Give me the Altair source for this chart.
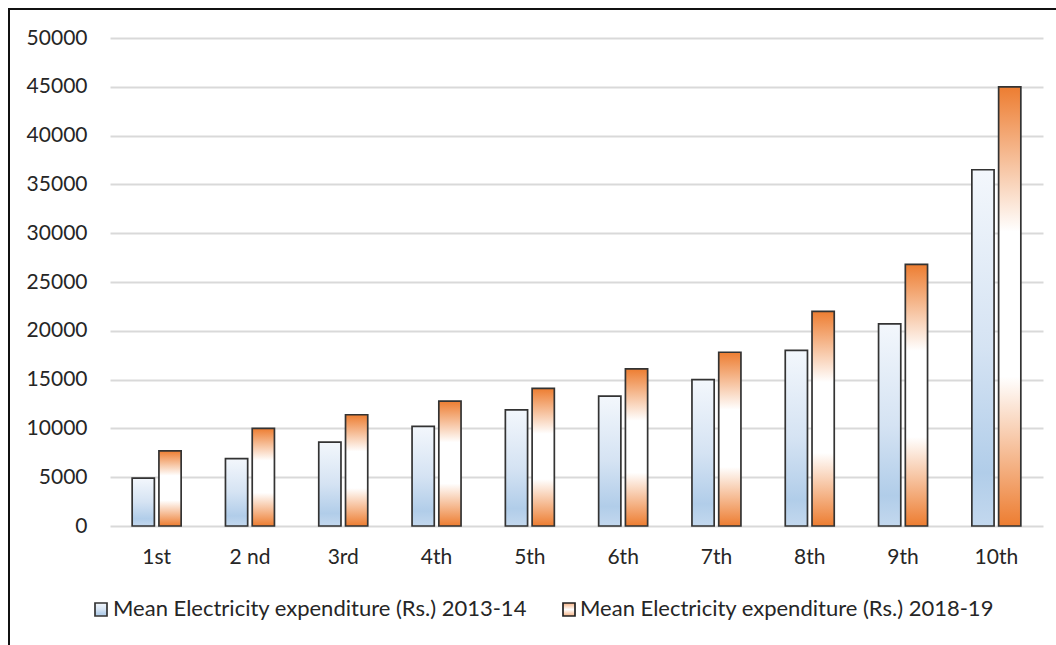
import altair as alt
import pandas as pd

# Decile groups and mean electricity expenditure (Rs.)
deciles = ["1st", "2 nd", "3rd", "4th", "5th", "6th", "7th", "8th", "9th", "10th"]
exp_2013_14 = [4900, 6900, 8600, 10200, 11900, 13300, 15000, 18000, 20700, 36500]
exp_2018_19 = [7700, 10000, 11400, 12800, 14100, 16100, 17800, 22000, 26800, 45000]
series_names = [
    "Mean Electricity expenditure (Rs.) 2013-14",
    "Mean Electricity expenditure (Rs.) 2018-19",
]
y_ticks = list(range(0, 50001, 5000))

rows = []
for d, a, b in zip(deciles, exp_2013_14, exp_2018_19):
    rows.append({"decile": d, "series": series_names[0], "value": a})
    rows.append({"decile": d, "series": series_names[1], "value": b})
df = pd.DataFrame(rows)

FONT = "Lato"
TEXT = "#262626"
OUTLINE = "#333333"

blue_grad = {
    "gradient": "linear", "x1": 0, "y1": 0, "x2": 0, "y2": 1,
    "stops": [
        {"offset": 0.0, "color": "#f3f7fc"},
        {"offset": 0.5, "color": "#d5e3f3"},
        {"offset": 0.85, "color": "#b1cde9"},
        {"offset": 1.0, "color": "#c3d8ee"},
    ],
}
orange_grad = {
    "gradient": "linear", "x1": 0, "y1": 0, "x2": 0, "y2": 1,
    "stops": [
        {"offset": 0.0, "color": "#ed7d31"},
        {"offset": 0.33, "color": "#ffffff"},
        {"offset": 0.66, "color": "#ffffff"},
        {"offset": 1.0, "color": "#ed7d31"},
    ],
}

x_enc = alt.X(
    "decile:N", sort=deciles,
    scale=alt.Scale(paddingInner=0.475, paddingOuter=0.2375),
    axis=alt.Axis(title=None, domain=False, ticks=False, labelAngle=0,
                  labelFont=FONT, labelFontSize=21, labelColor=TEXT,
                  labelPadding=20, grid=False),
)
y_enc = alt.Y(
    "value:Q",
    scale=alt.Scale(domain=[0, 50000], nice=False),
    axis=alt.Axis(title=None, values=y_ticks, format="d", domain=False,
                  ticks=False, labelFont=FONT, labelFontSize=21,
                  labelColor=TEXT, labelPadding=23, grid=True,
                  gridColor="#d9d9d9", gridWidth=2),
)
off_enc = alt.XOffset("series:N", scale=alt.Scale(domain=series_names, paddingInner=0.17))

bars_a = alt.Chart(df).transform_filter(
    alt.datum.series == series_names[0]
).mark_bar(fill=blue_grad, stroke=OUTLINE, strokeWidth=1.7).encode(
    x=x_enc, y=y_enc, xOffset=off_enc
)
bars_b = alt.Chart(df).transform_filter(
    alt.datum.series == series_names[1]
).mark_bar(fill=orange_grad, stroke=OUTLINE, strokeWidth=1.7).encode(
    x=x_enc, y=y_enc, xOffset=off_enc
)

# Legend drawn below the plot
leg_a = pd.DataFrame({"label": [series_names[0]]})
leg_b = pd.DataFrame({"label": [series_names[1]]})

sw_a = alt.Chart(leg_a).mark_rect(fill=blue_grad, stroke=OUTLINE, strokeWidth=1.7).encode(
    x=alt.value(-15), x2=alt.value(-3), y=alt.value(565), y2=alt.value(578)
)
sw_b = alt.Chart(leg_b).mark_rect(fill={
    "gradient": "linear", "x1": 0, "y1": 0, "x2": 0, "y2": 1,
    "stops": [
        {"offset": 0.0, "color": "#f4b183"},
        {"offset": 0.5, "color": "#ffffff"},
        {"offset": 1.0, "color": "#f4b183"},
    ],
}, stroke="#222222", strokeWidth=1.7).encode(
    x=alt.value(453), x2=alt.value(465), y=alt.value(565), y2=alt.value(578)
)
txt_a = alt.Chart(leg_a).mark_text(
    align="left", baseline="middle", font=FONT, fontSize=22, color=TEXT
).encode(x=alt.value(3), y=alt.value(571), text="label:N")
txt_b = alt.Chart(leg_b).mark_text(
    align="left", baseline="middle", font=FONT, fontSize=22, color=TEXT
).encode(x=alt.value(470), y=alt.value(571), text="label:N")

# Outer frame around the figure
frame = alt.Chart(leg_a).mark_rect(
    fillOpacity=0, stroke="#111111", strokeWidth=2
).encode(
    x=alt.value(-101), x2=alt.value(1000), y=alt.value(-29), y2=alt.value(700)
)

chart = alt.layer(bars_a, bars_b, sw_a, sw_b, txt_a, txt_b, frame).properties(
    width=933, height=488,
    autosize=alt.AutoSizeParams(type="none"),
    padding={"left": 110, "top": 38, "right": 13, "bottom": 119},
    background="white",
).configure_view(stroke=None)

chart.save("out.html", embed_options={"renderer": "svg", "actions": False})
